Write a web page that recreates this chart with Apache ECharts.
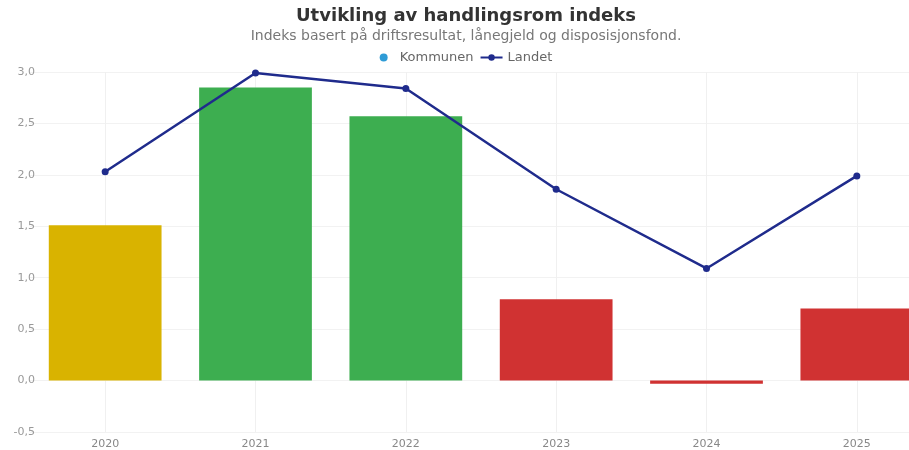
<!DOCTYPE html>
<html><head><meta charset="utf-8">
<script src="https://cdn.jsdelivr.net/npm/echarts@6/dist/echarts.min.js"></script>
<style>html,body{margin:0;padding:0;background:#fff;overflow:hidden;width:909px;height:450px}#c{width:932px;height:450px}</style>
</head><body><div id="c"></div>
<script>
const categories = ['2020','2021','2022','2023','2024','2025'];
const kommunen = [1.51, 2.85, 2.57, 0.79, -0.03, 0.70];
const landet = [2.03, 2.99, 2.84, 1.86, 1.09, 1.99];
const barColors = ['#D9B300', '#3DAE50', '#3DAE50', '#D03232', '#D03232', '#D03232'];

const chart = echarts.init(document.getElementById('c'));
chart.setOption({
  animation: false,
  textStyle: {fontFamily: 'DejaVu Sans'},
  title: {
    text: 'Utvikling av handlingsrom indeks',
    subtext: 'Indeks basert på driftsresultat, lånegjeld og disposisjonsfond.',
    left: 'center', top: 2, itemGap: 4,
    textStyle: {fontSize: 18, fontWeight: 'bold', color: '#333', fontFamily: 'DejaVu Sans'},
    subtextStyle: {fontSize: 14, color: '#777', fontFamily: 'DejaVu Sans'}
  },
  legend: {
    top: 46, left: 'center', itemGap: 6, itemWidth: 22, itemHeight: 8,
    textStyle: {fontSize: 13, color: '#666', fontFamily: 'DejaVu Sans'},
    data: [
      {name: 'Kommunen', icon: 'circle', itemStyle: {color: '#2E9BD6'}},
      {name: 'Landet'}
    ]
  },
  grid: {left: 30, right: 0, top: 72, bottom: 16, containLabel: false},
  xAxis: {
    type: 'category', data: categories,
    axisLine: {show: false}, axisTick: {show: false},
    axisLabel: {color: '#888', fontSize: 11, margin: 7, fontFamily: 'DejaVu Sans'},
    splitLine: {show: false}
  },
  yAxis: {
    type: 'value', min: -0.5, max: 3, interval: 0.5,
    axisLabel: {color: '#999', fontSize: 11, margin: -5, fontFamily: 'DejaVu Sans',
      formatter: v => v.toFixed(1).replace('.', ',')},
    splitLine: {lineStyle: {color: '#f2f2f2'}}
  },
  series: [
    {
      name: 'Kommunen', type: 'bar', barCategoryGap: '25%',
      itemStyle: {color: '#2E9BD6'},
      data: kommunen.map((v, i) => ({value: v, itemStyle: {color: barColors[i]}}))
    },
    {
      name: 'Landet', type: 'line', data: landet,
      symbol: 'circle', symbolSize: 7,
      lineStyle: {color: '#1F2B8C', width: 2.5},
      itemStyle: {color: '#1F2B8C'},
      markLine: {
        silent: true, symbol: 'none', z: 0,
        label: {show: false},
        lineStyle: {color: '#f0f0f0', type: 'solid', width: 1},
        data: categories.map(c => ({xAxis: c}))
      }
    }
  ]
});
</script></body></html>
